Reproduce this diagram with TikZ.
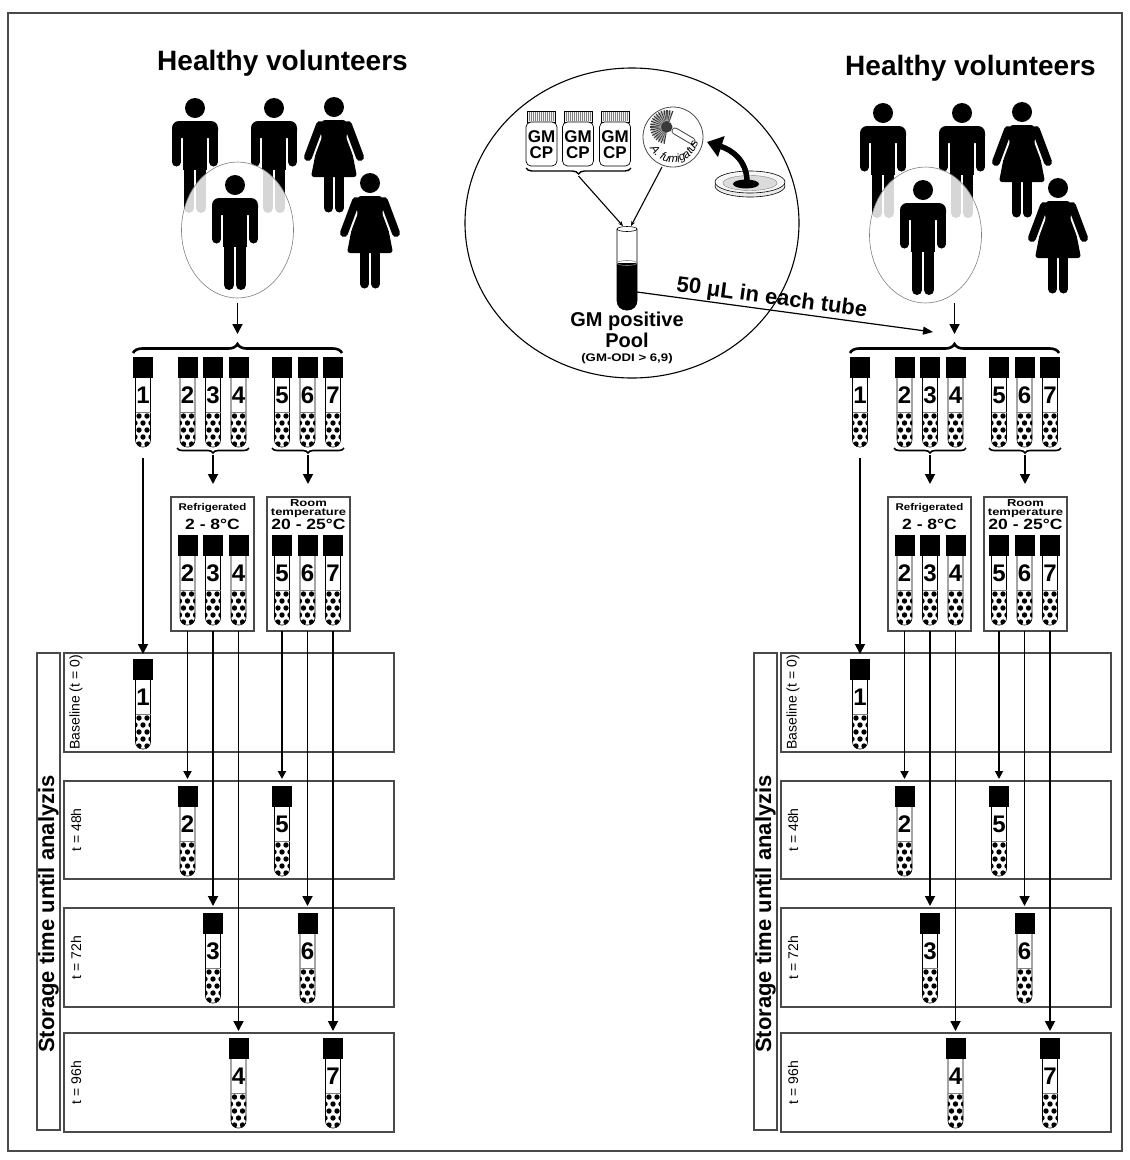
\documentclass[tikz,border=0pt]{standalone}
\usepackage{fontspec}
\setmainfont{Liberation Sans}
\usepackage{graphicx}
\usetikzlibrary{arrows.meta,decorations.pathreplacing,decorations.text}

\definecolor{edge}{HTML}{4A4A4A}
\newcommand\myfs[2]{\fontsize{#1}{#2}\selectfont}
\newcommand\tubenum{\myfs{24}{24}\bfseries}

\tikzset{
  panelbox/.style={draw=edge, line width=1.2pt},
  arr/.style={line width=1.8pt, -{Triangle[length=10pt,width=10pt]}},
  arrthin/.style={line width=1.8pt, -{Triangle[length=8pt,width=8pt]}},
  feed/.style={line width=1.1pt, -{Stealth[length=5pt,width=4pt]}},
  man/.pic={
    \fill (0,0) circle[radius=10];
    \fill[rounded corners=7] (-23,30) -- (-23,13) -- (23,13) -- (23,30) -- cycle;
    \draw[line width=9pt, line cap=round] (-18.5,22) -- (-18.5,54) (18.5,22) -- (18.5,54);
    \fill (-12,20) rectangle (12,62);
    \draw[line width=10pt, line cap=round] (-6,58) -- (-6,100) (6,58) -- (6,100);
  },
  woman/.pic={
    \fill (0,0) circle[radius=10];
    \fill[rounded corners=3] (-12,13) -- (12,13) -- (23,70) -- (-23,70) -- cycle;
    \draw[white, line width=12pt, line cap=round] (-18.5,30) -- (-26,50) (18.5,30) -- (26,50);
    \draw[line width=8pt, line cap=round] (-14,18) -- (-26,50) (14,18) -- (26,50);
    \draw[line width=9pt, line cap=round] (-5.5,68) -- (-5.5,101) (5.5,68) -- (5.5,101);
  },
  pics/tube/.style={code={
    \fill (-10,0) rectangle (10,21);
    \begin{scope}
      \clip[rounded corners=7] (-7.5,21) -- (-7.5,90) -- (7.5,90) -- (7.5,21) -- cycle;
      \foreach \dx/\dy in {-4/59,4/59,0/66,-8/66,8/66,-4/73,4/73,0/80,-8/80,8/80,-4/87,4/87}
        \fill (\dx,\dy) circle[radius=2.7];
    \end{scope}
    \draw[line width=0.6pt, rounded corners=7] (-7.5,21) -- (-7.5,90) -- (7.5,90) -- (7.5,21);
    \draw[line width=0.4pt, gray] (-7.5,55) -- (7.5,55);
    \node[font=\tubenum, inner sep=0pt] at (0,38) {#1};
  }},
}

% one study arm: volunteers, the seven tubes, storage conditions and time rows
\newcommand\panel[4]{%
  \begin{scope}[xshift=#2, name prefix=#1-]
    \begin{scope}[xshift=#3, yshift=#4]
      \node[font=\myfs{28}{30}\bfseries, anchor=base] (title) at (282.5,70) {Healthy volunteers};
      \pic at (195,108) {man};
      \pic at (274,108) {man};
      \pic at (334,107) {woman};
      \pic at (370,183) {woman};
      \fill[white, opacity=0.84] (237.5,230) ellipse[x radius=56, y radius=68];
      \draw[gray, line width=0.6pt] (237.5,230) ellipse[x radius=56, y radius=68];
      \pic at (235,185) {man};
    \end{scope}
    \coordinate (drawn) at (237.5,303);
    \coordinate (split) at (237.5,334);
    \draw[arr] (drawn) -- (split);
    \draw[decorate, decoration={brace, amplitude=9pt}, line width=2.6pt] (133,353) -- (342,353);
    \foreach \x/\n in {143/1,187.5/2,213/3,238.5/4,282/5,307.5/6,333/7}
      \pic at (\x,357) {tube=\n};
    \draw[decorate, decoration={brace, mirror, amplitude=5pt}, line width=1.6pt] (177,448) -- (249,448);
    \draw[decorate, decoration={brace, mirror, amplitude=5pt}, line width=1.6pt] (272,448) -- (344,448);
    \coordinate (cold) at (213,455);
    \coordinate (coldin) at (213,484);
    \coordinate (warm) at (308,455);
    \coordinate (warmin) at (308,484);
    \draw[arr] (cold) -- (coldin);
    \draw[arr] (warm) -- (warmin);
    \draw[panelbox] (171,497) rectangle (254,631);
    \draw[panelbox] (267,497) rectangle (350,631);
    \node[anchor=base, font=\myfs{11.5}{12}\bfseries] at (212.5,510) {\scalebox{1}[0.85]{Refrigerated}};
    \node[anchor=base, font=\myfs{17.5}{18}\bfseries] at (212.5,529) {\scalebox{1}[0.85]{2 - 8°C}};
    \node[anchor=base, font=\myfs{13}{13}\bfseries] at (308.5,506) {\scalebox{1}[0.78]{Room}};
    \node[anchor=base, font=\myfs{13}{13}\bfseries] at (308.5,515.5) {\scalebox{1}[0.78]{temperature}};
    \node[anchor=base, font=\myfs{17.5}{18}\bfseries] at (308.5,529) {\scalebox{1}[0.85]{20 - 25°C}};
    \foreach \x/\n in {187.5/2,213/3,238.5/4,282/5,307.5/6,333/7}
      \pic at (\x,535) {tube=\n};
    % storage time rows
    \draw[panelbox] (37,653) rectangle (60,1130);
    \node[rotate=90, font=\myfs{22}{22}\bfseries] at (48.5,914) {Storage time until analyzis};
    \foreach \ya/\yb/\lab in {653/752/{Baseline (t = 0)},781/879/{t = 48h},908/1007/{t = 72h},1033/1132/{t = 96h}} {
      \draw[panelbox] (64,\ya) rectangle (394,\yb);
      \node[rotate=90, font=\myfs{14}{14}] at (76,{(\ya+\yb)/2}) {\lab};
    }
    \pic at (143,659) {tube=1};
    \pic at (187.5,786) {tube=2};
    \pic at (282,786) {tube=5};
    \pic at (213,913) {tube=3};
    \pic at (307.5,913) {tube=6};
    \pic at (238.5,1038) {tube=4};
    \pic at (333,1038) {tube=7};
    \coordinate (base) at (143,458);
    \coordinate (basein) at (143,654);
    \draw[arr] (base) -- (basein);
    \draw[arrthin] (187.5,631) -- (187.5,779);
    \draw[arrthin] (282,631) -- (282,779);
    \draw[arr] (213,631) -- (213,906);
    \draw[arr] (307.5,631) -- (307.5,906);
    \draw[arr] (238.5,631) -- (238.5,1031);
    \draw[arr] (333,631) -- (333,1031);
  \end{scope}}

\begin{document}
\begin{tikzpicture}[x=1pt,y=-1pt]
  \useasboundingbox (0,0) rectangle (1130,1160);
  \fill[white] (0,0) rectangle (1130,1160);
  \draw[edge, line width=1.3pt] (8,13) rectangle (1122,1151);

  \panel{L}{0pt}{0pt}{0pt}
  \panel{R}{717pt}{-29pt}{-5pt}

  % preparation of the galactomannan positive pool
  \draw[line width=1.1pt] (632,223) ellipse[x radius=167, y radius=155];
  \foreach \b in {541.5,578,615} {
    \draw[line width=0.5pt, fill=gray!10] (\b-14,111) rectangle (\b+14,122);
    \foreach \s in {-12,-10,...,12}
      \draw[gray, line width=0.5pt] (\b+\s,112) -- (\b+\s,121);
    \draw[line width=0.7pt, fill=white, rounded corners=5] (\b-15.5,122) rectangle (\b+15.5,166);
    \node[font=\myfs{17}{17}\bfseries] at (\b,136.5) {GM};
    \node[font=\myfs{17}{17}\bfseries] at (\b,152.5) {CP};
  }
  \draw[decorate, decoration={brace, mirror, amplitude=6pt}, line width=1.4pt] (526,168) -- (631,168);
  \coordinate (controls) at (578.5,176);

  % A. fumigatus culture
  \draw[edge, line width=0.8pt, fill=white] (673,137) circle[radius=30];
  \draw[gray!55!black, line width=7pt, line cap=round] (675,131) -- (692,141);
  \draw[white, line width=5pt, line cap=round] (675,131) -- (692,141);
  \foreach \a in {70,80,...,260}
    \draw[gray!45!black, line width=1.2pt] (667,127) ++(-\a:5) -- ++(-\a:12);
  \foreach \a in {75,85,...,255}
    \draw[gray!70, line width=0.8pt] (667,127) ++(-\a:6) -- ++(-\a:10);
  \fill[gray!45!black] (667,127) circle[radius=5.5];
  \path[decorate, decoration={text along path, text align=center,
        text={|\myfs{11.5}{12}\itshape|A. fumigatus}}]
    (673,137) ++(172:25.5) arc[start angle=172, end angle=-8, radius=25.5];
  \coordinate (fungus) at (662,167);

  % culture plate
  \draw[line width=0.6pt, fill=gray!15] (750,186) ellipse[x radius=35, y radius=11];
  \draw[line width=0.6pt, fill=gray!6] (750,182) ellipse[x radius=35, y radius=11];
  \draw[gray, line width=0.4pt, fill=gray!28] (750,183) ellipse[x radius=27, y radius=7.5];
  \fill (746,184) ellipse[x radius=13, y radius=4.5];
  \coordinate (colony) at (747,180);
  \coordinate (picked) at (707,142);
  \draw[line width=5.5pt, -{Triangle[length=15pt,width=21pt]}] (colony) .. controls (746,160) and (732,150) .. (picked);

  % pool tube
  \begin{scope}
    \clip[rounded corners=9] (617,229) -- (617,310) -- (637,310) -- (637,229) -- cycle;
    \fill (615,263) rectangle (639,312);
  \end{scope}
  \draw[line width=0.6pt, rounded corners=9] (617,229) -- (617,310) -- (637,310) -- (637,229);
  \draw[line width=0.6pt, fill=white] (627,229) ellipse[x radius=10, y radius=2.5];
  \draw[gray, line width=0.6pt] (627,263) ellipse[x radius=10, y radius=2.5];
  \coordinate (pooltop) at (623,226);
  \coordinate (pooltop2) at (631,226);
  \draw[feed] (controls) -- (pooltop);
  \draw[feed] (fungus) -- (pooltop2);
  \node[anchor=base, font=\myfs{20}{20}\bfseries] (poolname) at (627,326) {GM positive};
  \node[anchor=base, font=\myfs{20}{20}\bfseries] at (627,347) {Pool};
  \node[anchor=base, font=\myfs{11}{11}\bfseries] at (627,361) {\scalebox{1.2}[1]{(GM-ODI > 6,9)}};

  % spiking of every tube of the second arm
  \coordinate (poolside) at (637,292);
  \coordinate (target) at (933,332);
  \draw[line width=1.2pt, -{Triangle[length=10pt,width=8pt]}] (poolside) --
    node[sloped, above, pos=0.45, inner sep=1pt, font=\myfs{22}{22}\bfseries] {50 μL in each tube} (target);
\end{tikzpicture}
\end{document}
